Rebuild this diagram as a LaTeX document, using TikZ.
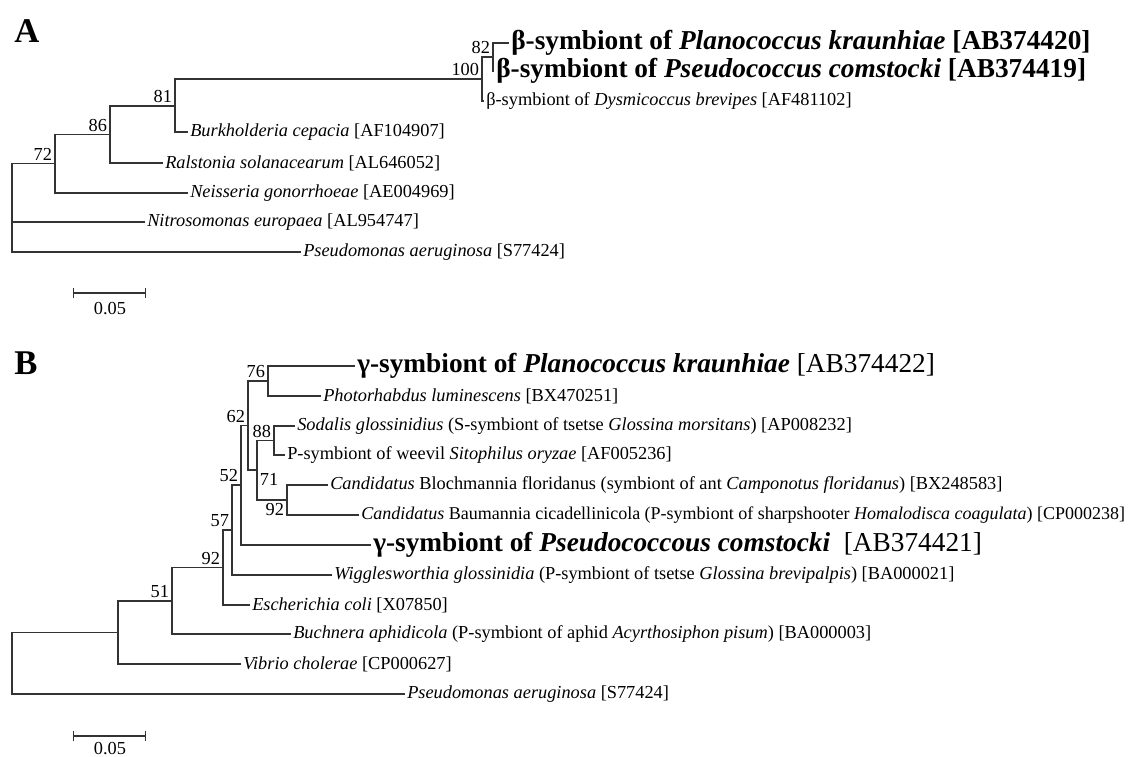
\documentclass[tikz,border=0pt]{standalone}
\usepackage{fontspec}
\setmainfont{Liberation Serif}
\usetikzlibrary{%
    arrows.meta,%
    positioning
    }
\tikzset{
  leaf/.style={
    anchor=west,
    inner sep=1.5pt,
    font=\fontsize{13.75}{16}\selectfont,
  },
  bigleaf/.style={
    anchor=west,
    inner sep=1.5pt,
    font=\fontsize{20.5}{23}\selectfont,
  },
  boot/.style={
    anchor=south east,
    inner sep=2pt,
    font=\fontsize{13.75}{16}\selectfont,
  },
  panel/.style={
    font=\fontsize{26}{28}\selectfont\bfseries,
  },
  branch/.style={
    line width=0.9pt,
    black!80,
  },
  scalebar/.style={
    line width=0.9pt,
    black!80,
    {Bar[width=8pt]}-{Bar[width=8pt]},
  },
}

\begin{document}
\begin{tikzpicture}[x=0.75pt,y=-0.75pt]
\useasboundingbox (0,0) rectangle (1136,757);

% panel A
\node[panel] (labA) at (27,31) {A};

\coordinate (rA)   at (12,208);
\coordinate (n72)  at (55,163.5);
\coordinate (n86)  at (110,134.5);
\coordinate (n81)  at (175,106);
\coordinate (n100) at (482,79);
\coordinate (n82)  at (493,57);

\node[bigleaf] 
  (plaA) 
  at (509,43)
  {\textbf{β-symbiont of \textit{Planococcus kraunhiae} [AB374420]}};
\node[bigleaf] 
  (pseA) 
  at (494,71)
  {\textbf{β-symbiont of \textit{Pseudococcus comstocki} [AB374419]}};
\node[leaf] 
  (dysA) 
  at (484,101)
  {β-symbiont of \textit{Dysmicoccus brevipes} [AF481102]};
\node[leaf] 
  (burA) 
  at (188,132)
  {\textit{Burkholderia cepacia} [AF104907]};
\node[leaf] 
  (ralA) 
  at (163,163)
  {\textit{Ralstonia solanacearum} [AL646052]};
\node[leaf] 
  (neiA) 
  at (188,193)
  {\textit{Neisseria gonorrhoeae} [AE004969]};
\node[leaf] 
  (nitA) 
  at (145,222)
  {\textit{Nitrosomonas europaea} [AL954747]};
\node[leaf] 
  (psaA) 
  at (301,252)
  {\textit{Pseudomonas aeruginosa} [S77424]};

\node[boot] (b82)  at (n82)  {82};
\node[boot] (b100) at (n100) {100};
\node[boot] (b81)  at (n81)  {81};
\node[boot] (b86)  at (n86)  {86};
\node[boot] (b72)  at (n72)  {72};

\begin{scope}[branch]
\draw (rA) |- (n72);
\draw (rA) |- (nitA);
\draw (rA) |- (psaA);
\draw (n72) |- (n86);
\draw (n72) |- (neiA);
\draw (n86) |- (n81);
\draw (n86) |- (ralA);
\draw (n81) |- (n100);
\draw (n81) |- (burA);
\draw (n100) |- (n82);
\draw (n100) |- (dysA);
\draw (n82) |- (plaA);
\draw (n82) |- (pseA);
\end{scope}

\coordinate (sbA1) at (73,293);
\coordinate (sbA2) at (146,293);
\draw[scalebar] (sbA1) -- (sbA2);
\node[leaf,anchor=center] (sbAt) at (110,309) {0.05};

% panel B
\node[panel] (labB) at (26,363) {B};

\coordinate (rB)   at (12,663);
\coordinate (nX)   at (118,632.5);
\coordinate (n51)  at (172,601);
\coordinate (n92)  at (223,567.5);
\coordinate (n57)  at (232,530);
\coordinate (n52)  at (241,485);
\coordinate (n62)  at (248,425.5);
\coordinate (n76)  at (268,381);
\coordinate (n71)  at (257,470);
\coordinate (n88)  at (274,440.5);
\coordinate (n92b) at (287,500);

\node[bigleaf] 
  (gplB) 
  at (355,366)
  {\textbf{γ-symbiont of \textit{Planococcus kraunhiae}} [AB374422]};
\node[leaf] 
  (phoB) 
  at (321,396)
  {\textit{Photorhabdus luminescens} [BX470251]};
\node[leaf] 
  (sodB) 
  at (295,426)
  {\textit{Sodalis glossinidius} (S-symbiont of tsetse \textit{Glossina morsitans}) [AP008232]};
\node[leaf] 
  (weeB) 
  at (285,455)
  {P-symbiont of weevil \textit{Sitophilus oryzae} [AF005236]};
\node[leaf] 
  (bloB) 
  at (328,485)
  {\textit{Candidatus} Blochmannia floridanus (symbiont of ant \textit{Camponotus floridanus}) [BX248583]};
\node[leaf,font=\fontsize{13.5}{16}\selectfont] 
  (bauB) 
  at (359,515)
  {\textit{Candidatus} Baumannia cicadellinicola (P-symbiont of sharpshooter \textit{Homalodisca coagulata}) [CP000238]};
\node[bigleaf] 
  (gpsB) 
  at (371,545)
  {\textbf{γ-symbiont of \textit{Pseudococcous comstocki}}\ \ [AB374421]};
\node[leaf] 
  (wigB) 
  at (332,575)
  {\textit{Wigglesworthia glossinidia} (P-symbiont of tsetse \textit{Glossina brevipalpis}) [BA000021]};
\node[leaf] 
  (escB) 
  at (250,605)
  {\textit{Escherichia coli} [X07850]};
\node[leaf] 
  (bucB) 
  at (291,634)
  {\textit{Buchnera aphidicola} (P-symbiont of aphid \textit{Acyrthosiphon pisum}) [BA000003]};
\node[leaf] 
  (vibB) 
  at (241,664)
  {\textit{Vibrio cholerae} [CP000627]};
\node[leaf] 
  (psaB) 
  at (405,694)
  {\textit{Pseudomonas aeruginosa} [S77424]};

\node[boot] (b76)  at (n76)  {76};
\node[boot] (b62)  at (n62)  {62};
\node[boot] (b88)  at (n88)  {88};
\node[boot,anchor=north west] (b71) at (n71) {71};
\node[boot,anchor=north east] (b92b) at (n92b) {92};
\node[boot] (b52)  at (n52)  {52};
\node[boot] (b57)  at (n57)  {57};
\node[boot] (b92)  at (n92)  {92};
\node[boot] (b51)  at (n51)  {51};

\begin{scope}[branch]
\draw (rB) |- (nX);
\draw (rB) |- (psaB);
\draw (nX) |- (n51);
\draw (nX) |- (vibB);
\draw (n51) |- (n92);
\draw (n51) |- (bucB);
\draw (n92) |- (n57);
\draw (n92) |- (escB);
\draw (n57) |- (n52);
\draw (n57) |- (wigB);
\draw (n52) |- (n62);
\draw (n52) |- (gpsB);
\draw (n62) |- (n76);
\draw (n62) |- (n71);
\draw (n76) |- (gplB);
\draw (n76) |- (phoB);
\draw (n71) |- (n88);
\draw (n71) |- (n92b);
\draw (n88) |- (sodB);
\draw (n88) |- (weeB);
\draw (n92b) |- (bloB);
\draw (n92b) |- (bauB);
\end{scope}

\coordinate (sbB1) at (73,736);
\coordinate (sbB2) at (146,736);
\draw[scalebar] (sbB1) -- (sbB2);
\node[leaf,anchor=center] (sbBt) at (110,749) {0.05};
\end{tikzpicture}
\end{document}
